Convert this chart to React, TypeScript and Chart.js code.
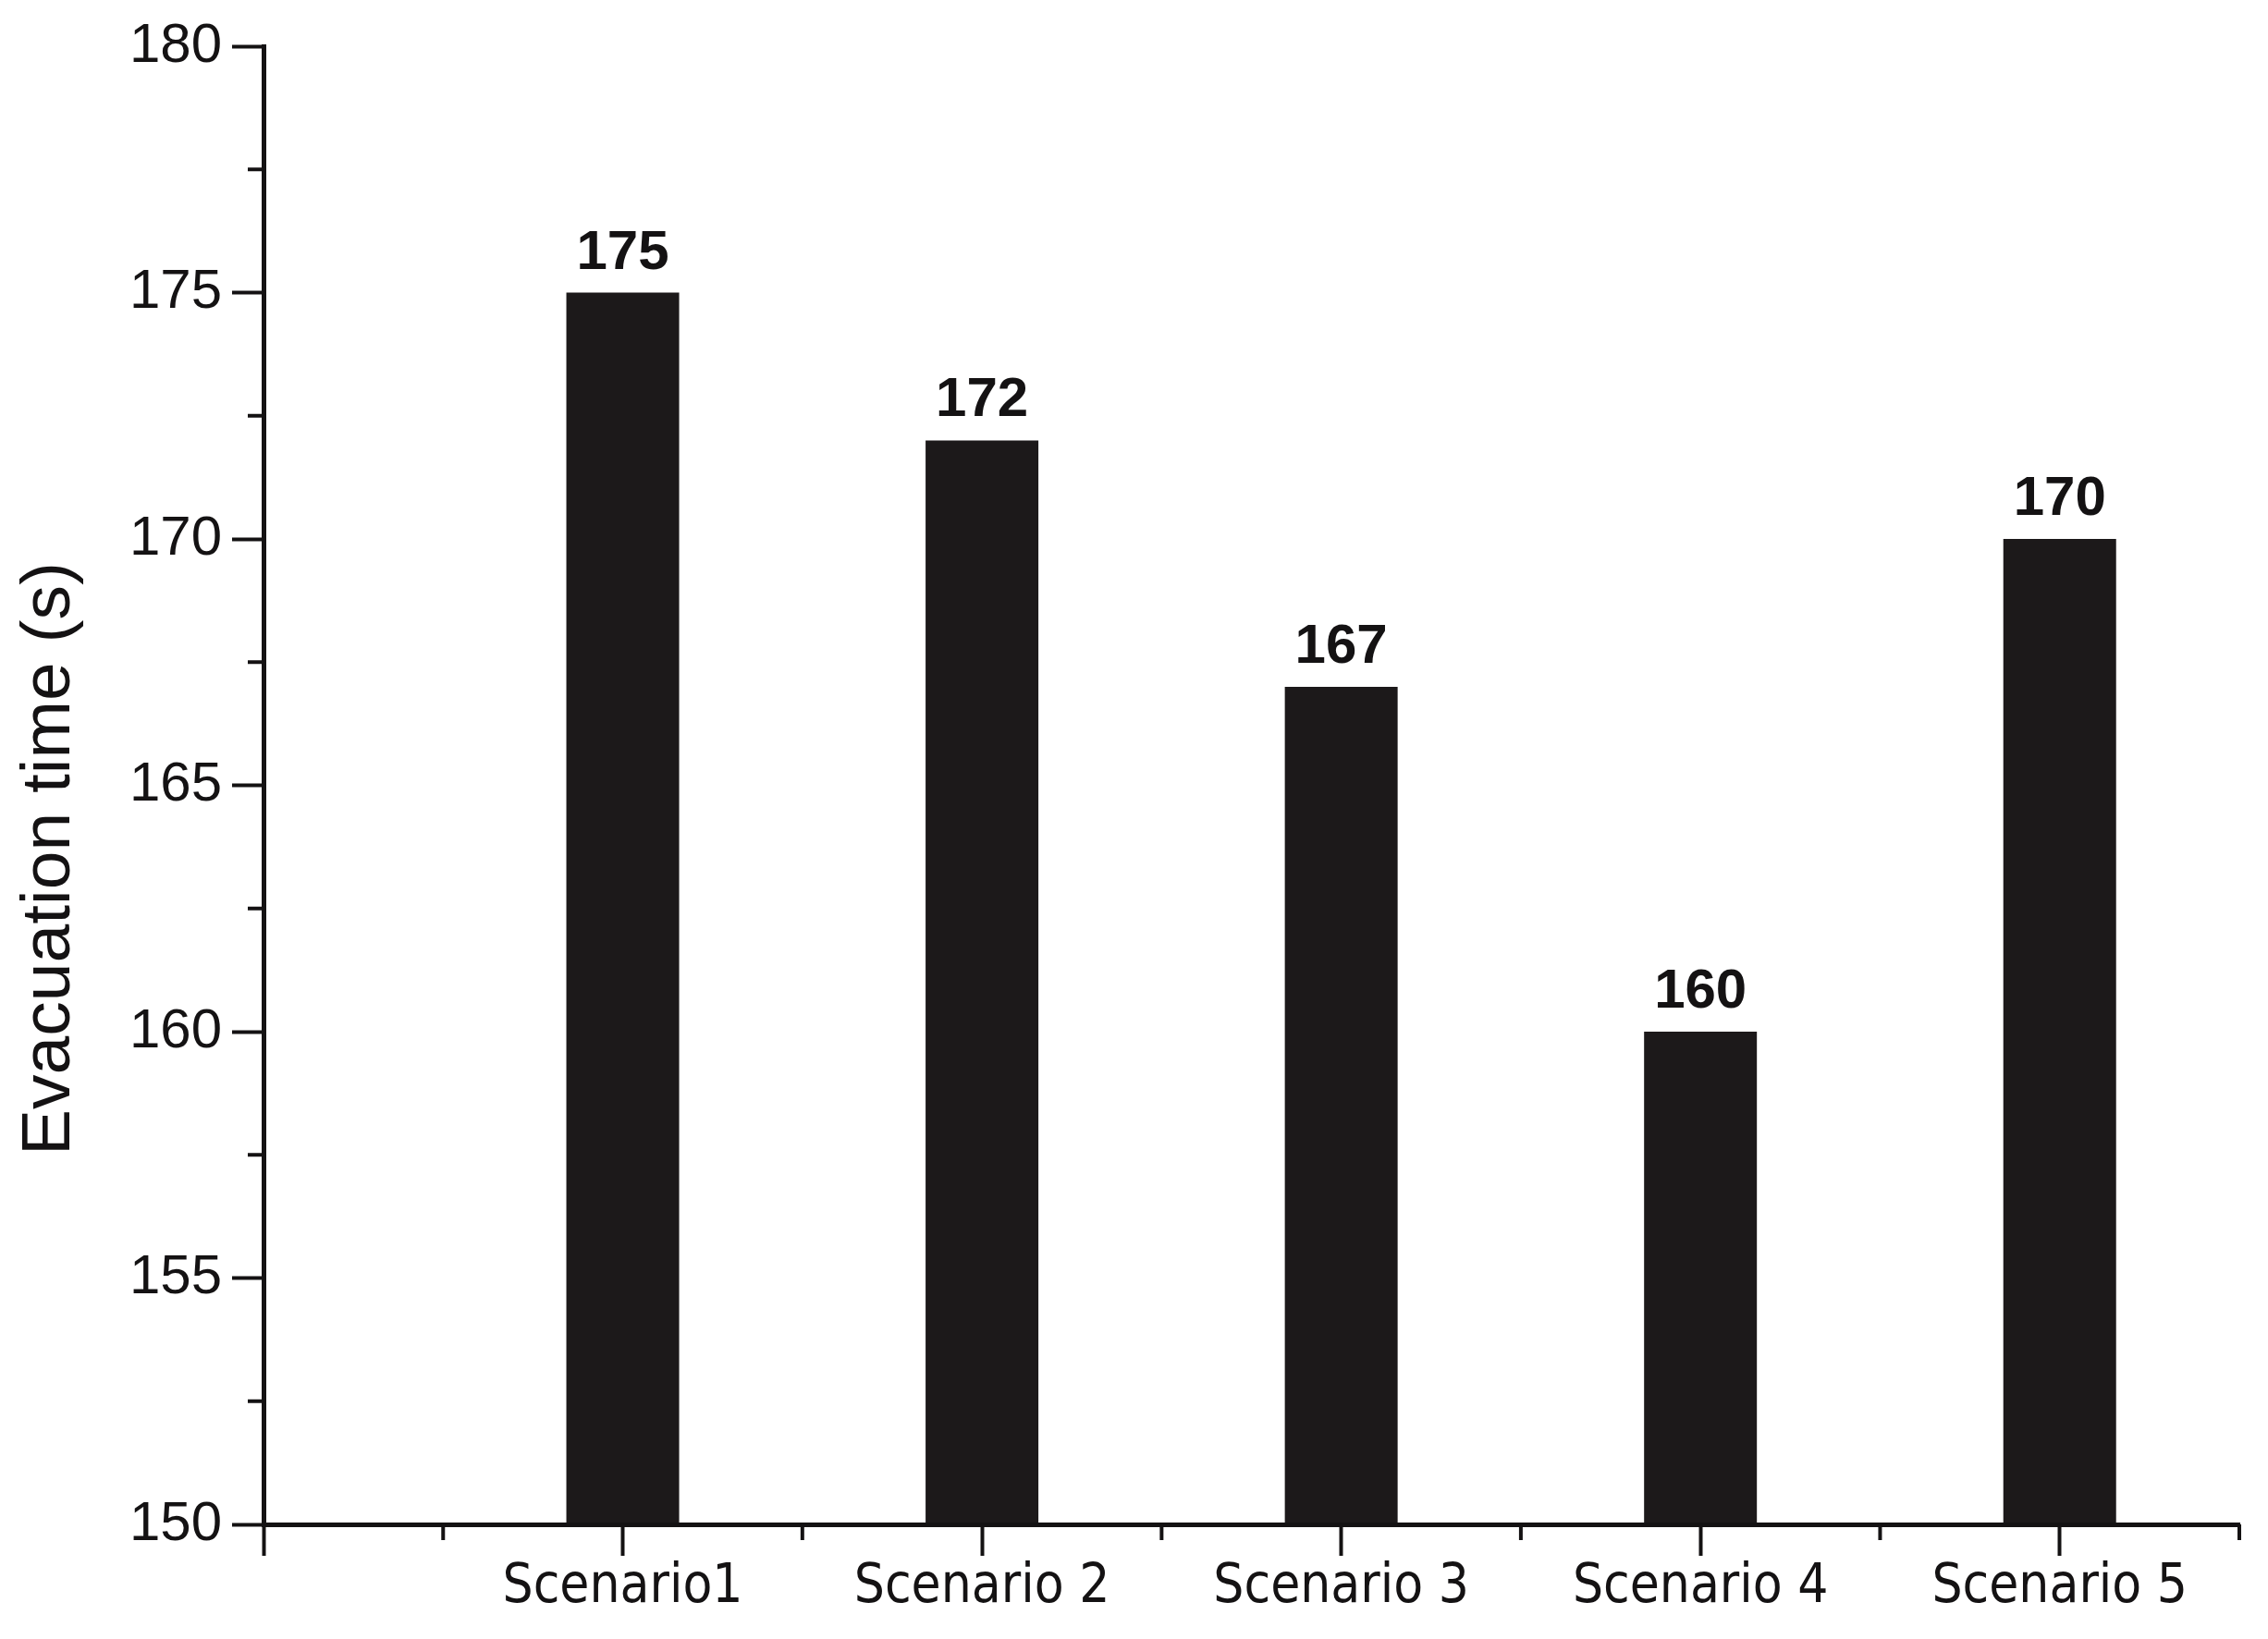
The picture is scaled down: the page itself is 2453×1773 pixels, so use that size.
import { useEffect, useRef } from 'react';
import { Chart, registerables } from 'chart.js';

Chart.register(...registerables);

// ---- data ----
const categories = ['Scenario1', 'Scenario 2', 'Scenario 3', 'Scenario 4', 'Scenario 5'];
const categoryPositions = [1, 2, 3, 4, 5];
const evacuationTimes = [175, 172, 167, 160, 170];
const yAxisTitle = 'Evacuation time (s)';
const yMin = 150;
const yMax = 180;
const yStep = 5;
const xMin = 0;
const xMax = 5.5;
const xStep = 0.5;

// ---- style ----
const INK = '#141213';
const BAR = '#1c191a';
const W = 2453;
const H = 1773;
const LABEL_FONT = "'Liberation Sans', Arial, sans-serif";
const NARROW_FONT = "'DejaVu Sans Condensed', 'Liberation Sans Narrow', 'Liberation Sans', sans-serif";

export default function App() {
  const ref = useRef<HTMLCanvasElement | null>(null);

  useEffect(() => {
    const canvas = ref.current;
    if (!canvas) return;

    const minorTicks = {
      id: 'minorTicks',
      afterDraw(chart: any) {
        const { ctx, scales } = chart;
        const x = scales.x;
        const y = scales.y;
        ctx.save();
        ctx.strokeStyle = INK;
        ctx.lineWidth = 4;
        for (let v = xMin + xStep; v <= xMax + 1e-9; v += 1) {
          const px = x.getPixelForValue(v);
          ctx.beginPath();
          ctx.moveTo(px, y.bottom);
          ctx.lineTo(px, y.bottom + 17);
          ctx.stroke();
        }
        for (let v = yMin + yStep / 2; v < yMax; v += yStep) {
          const py = y.getPixelForValue(v);
          ctx.beginPath();
          ctx.moveTo(x.left, py);
          ctx.lineTo(x.left - 17, py);
          ctx.stroke();
        }
        ctx.restore();
      },
    };

    const valueLabels = {
      id: 'valueLabels',
      afterDatasetsDraw(chart: any) {
        const { ctx } = chart;
        const meta = chart.getDatasetMeta(0);
        ctx.save();
        ctx.fillStyle = INK;
        ctx.font = `bold 60px ${LABEL_FONT}`;
        ctx.textAlign = 'center';
        ctx.textBaseline = 'alphabetic';
        meta.data.forEach((bar: any, i: number) => {
          ctx.fillText(String(evacuationTimes[i]), bar.x, bar.y - 26);
        });
        ctx.restore();
      },
    };

    const yTitlePlugin = {
      id: 'yTitlePlugin',
      afterDraw(chart: any) {
        const { ctx } = chart;
        ctx.save();
        ctx.translate(75, 929);
        ctx.rotate(-Math.PI / 2);
        ctx.fillStyle = INK;
        ctx.font = `75px ${LABEL_FONT}`;
        ctx.textAlign = 'center';
        ctx.textBaseline = 'alphabetic';
        ctx.fillText(yAxisTitle, 0, 0);
        ctx.restore();
      },
    };

    const chart = new Chart(canvas, {
      type: 'bar',
      data: {
        datasets: [
          {
            data: categoryPositions.map((p, i) => ({ x: p, y: evacuationTimes[i] })),
            backgroundColor: BAR,
            borderWidth: 0,
            barPercentage: 0.628,
            categoryPercentage: 1,
            base: yMin,
          },
        ],
      },
      options: {
        responsive: false,
        maintainAspectRatio: false,
        animation: false,
        devicePixelRatio: 1,
        layout: { padding: { left: 0, top: 50, right: 31, bottom: 0 } },
        plugins: {
          legend: { display: false },
          tooltip: { enabled: false },
          title: { display: false },
        },
        scales: {
          x: {
            type: 'linear',
            min: xMin,
            max: xMax,
            offset: false,
            afterFit: (s: any) => {
              s.height = H - 1649;
            },
            grid: {
              display: true,
              offset: false,
              drawOnChartArea: false,
              drawTicks: true,
              tickLength: 34,
              tickWidth: 4,
              tickColor: (c: any) =>
                c.tick && Number.isInteger(c.tick.value) ? INK : 'rgba(0,0,0,0)',
            },
            border: { display: true, color: INK, width: 5, z: 1 },
            ticks: {
              stepSize: xStep,
              autoSkip: false,
              maxRotation: 0,
              minRotation: 0,
              padding: 0,
              color: INK,
              font: { family: NARROW_FONT, size: 58 },
              callback: (v: any) => {
                const n = Number(v);
                const idx = categoryPositions.indexOf(n);
                return idx >= 0 ? categories[idx] : '';
              },
            },
          },
          y: {
            type: 'linear',
            min: yMin,
            max: yMax,
            afterFit: (s: any) => {
              s.width = 285;
            },
            grid: {
              display: true,
              drawOnChartArea: false,
              drawTicks: true,
              tickLength: 34,
              tickWidth: 4,
              tickColor: INK,
            },
            border: { display: true, color: INK, width: 5, z: 1 },
            ticks: {
              stepSize: yStep,
              padding: 11,
              color: INK,
              font: { family: LABEL_FONT, size: 60 },
            },
          },
        },
      },
      plugins: [minorTicks, valueLabels, yTitlePlugin],
    } as any);

    return () => chart.destroy();
  }, []);

  return (
    <div
      style={{
        position: 'fixed',
        left: 0,
        top: 0,
        width: W,
        height: H,
        background: '#ffffff',
      }}
    >
      <canvas ref={ref} width={W} height={H} style={{ width: W, height: H, display: 'block' }} />
    </div>
  );
}
